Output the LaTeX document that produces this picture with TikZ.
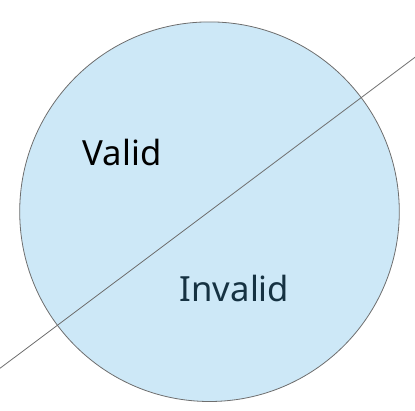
\documentclass[tikz,border=0pt]{standalone}
\usepackage{fontspec}
\setmainfont{Noto Sans}
\definecolor{setfill}{RGB}{205,232,247}
\definecolor{setdraw}{RGB}{110,110,110}
\definecolor{invalidtext}{RGB}{22,50,66}
\tikzset{every picture/.style={line width=0.75pt}}
\tikzset{
  setlabel/.style={anchor=base,inner sep=0.75pt,font=\fontsize{26}{30}\selectfont},
}
\begin{document}
\begin{tikzpicture}[x=0.75pt,y=0.75pt,yscale=-1,xscale=1]
\useasboundingbox (0,0) rectangle (415,411);

%Shape: Circle
\draw [color=setdraw,fill=setfill,line width=0.6] (209.5,211.7) circle [radius=189.8];
%Straight Lines
\coordinate (lineA) at (0,368.3);
\coordinate (lineB) at (415,57.3);
\draw [color=setdraw,line width=0.6] (lineA) -- (lineB);

% Text Node
\node (valid) [setlabel] at (122,165.7) {Valid};
% Text Node
\node (invalid) [setlabel,color=invalidtext] at (234.5,301.7) {Invalid};

\end{tikzpicture}
\end{document}
